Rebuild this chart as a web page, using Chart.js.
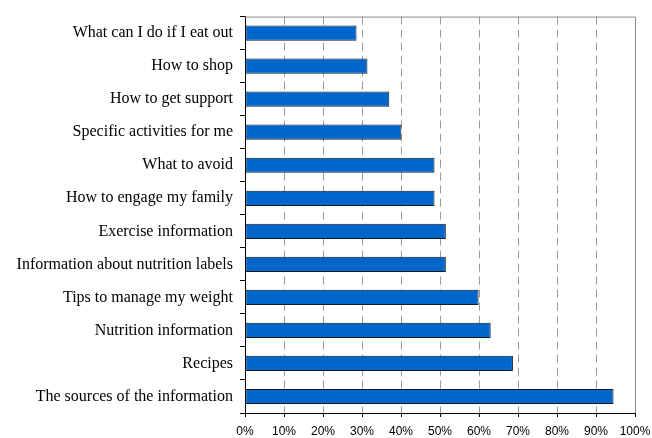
<!DOCTYPE html>
<html lang="en">
<head>
    <meta charset="UTF-8">
    <title>Information wanted</title>
    <script src="https://cdn.jsdelivr.net/npm/chart.js"></script>
    <style>
        html, body { margin: 0; padding: 0; background: #fff; }
        #wrap { width: 652px; height: 438px; }
    </style>
</head>
<body>
<div id="wrap"><canvas id="topicsChart" width="652" height="438"></canvas></div>
<script>
    // Categories, top to bottom as in the original
    const topics = [
        'What can I do if I eat out',
        'How to shop',
        'How to get support',
        'Specific activities for me',
        'What to avoid',
        'How to engage my family',
        'Exercise information',
        'Information about nutrition labels',
        'Tips to manage my weight',
        'Nutrition information',
        'Recipes',
        'The sources of the information'
    ];
    // Share of respondents (%)
    const shares = [28.6, 31.4, 37.0, 40.1, 48.6, 48.6, 51.5, 51.5, 59.9, 63.0, 68.7, 94.5];

    // Draw the grey top and right frame lines
    const frame = {
        id: 'frame',
        afterDraw(chart) {
            const a = chart.chartArea, c = chart.ctx;
            c.save();
            c.strokeStyle = '#8c8c8c';
            c.lineWidth = 1;
            c.beginPath();
            c.moveTo(a.left, a.top + 0.5);
            c.lineTo(a.right + 0.5, a.top + 0.5);
            c.lineTo(a.right + 0.5, a.bottom);
            c.stroke();
            c.restore();
        }
    };

    new Chart(document.getElementById('topicsChart').getContext('2d'), {
        type: 'bar',
        data: {
            labels: topics,
            datasets: [{
                data: shares,
                backgroundColor: '#0066cc',
                borderColor: '#1a1a1a',
                borderWidth: 1,
                borderSkipped: false,
                categoryPercentage: 1,
                barPercentage: 0.46
            }]
        },
        options: {
            indexAxis: 'y',
            responsive: false,
            animation: false,
            layout: { padding: { top: 9, right: 17, left: 0, bottom: 0 } },
            plugins: { legend: { display: false }, tooltip: { enabled: false } },
            scales: {
                x: {
                    min: 0,
                    max: 100,
                    afterFit(scale) {
                        scale.height = 25;
                        // keep the "100%" label from shrinking the plot
                        scale.paddingLeft = 0;
                        scale.paddingRight = 0;
                    },
                    ticks: {
                        stepSize: 10,
                        color: '#000',
                        padding: 7,
                        font: { family: 'Liberation Sans', size: 12 },
                        callback: v => v + '%'
                    },
                    grid: {
                        color: ctx => (ctx.tick && (ctx.tick.value === 0 || ctx.tick.value === 100)) ? 'rgba(0,0,0,0)' : '#999',
                        tickColor: '#000',
                        tickLength: 4,
                        tickBorderDash: []
                    },
                    // in v4 the dash of the grid lines lives under border
                    border: { color: '#000', dash: [8, 5] }
                },
                y: {
                    afterFit(scale) { scale.width = 245; },
                    ticks: {
                        color: '#000',
                        padding: 7,
                        font: { family: 'Liberation Serif', size: 16 }
                    },
                    grid: {
                        offset: true,
                        drawOnChartArea: false,
                        tickColor: '#000',
                        tickLength: 5
                    },
                    border: { color: '#000' }
                }
            }
        },
        plugins: [frame]
    });
</script>
</body>
</html>
